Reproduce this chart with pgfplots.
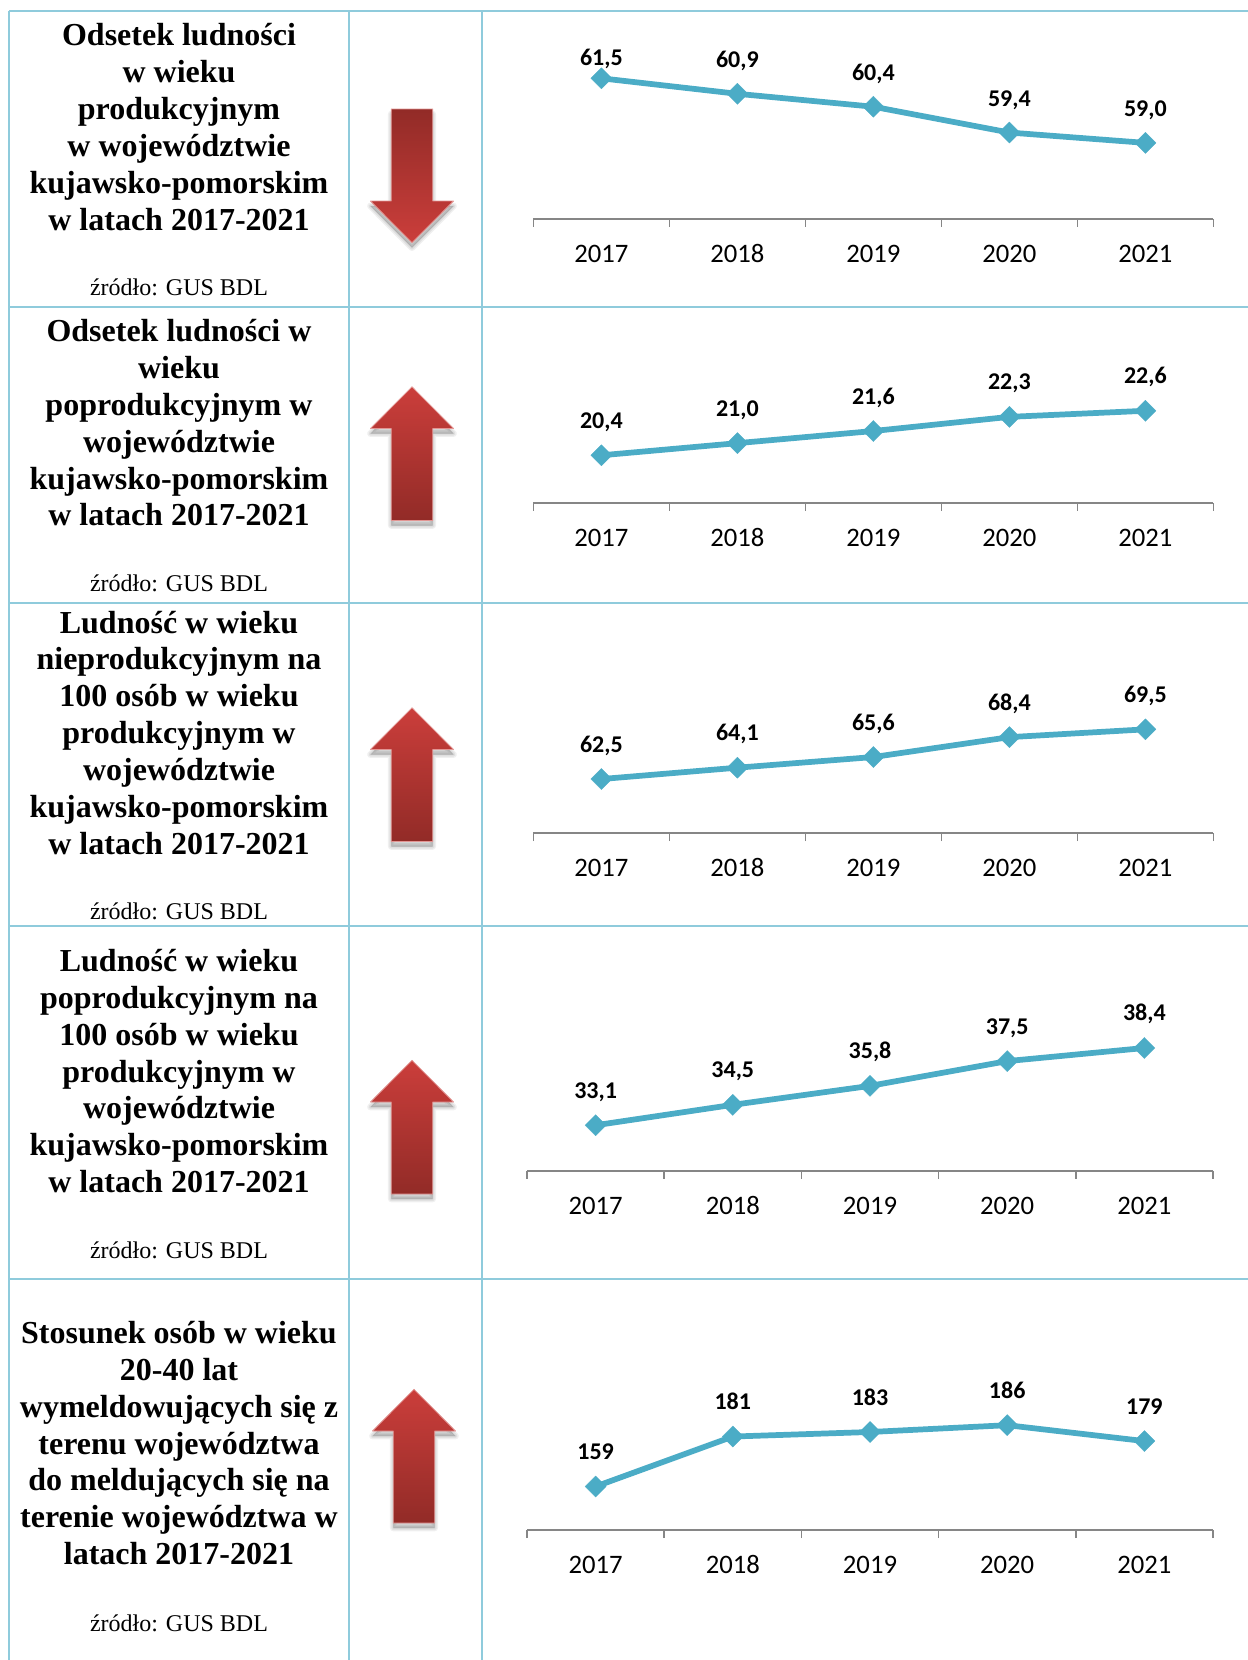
\documentclass[border=0pt]{standalone}
\usepackage{fontspec}
\setmainfont{Liberation Serif}
\newfontfamily\carl{Carlito}
\usepackage{pgfplots}
\pgfplotsset{compat=1.18}
\definecolor{tline}{HTML}{8FCBDC}
\definecolor{sline}{HTML}{4BACC6}
\definecolor{axgray}{HTML}{868686}
\definecolor{adark}{HTML}{922B27}
\definecolor{alight}{HTML}{CB3E3B}
\pgfplotsset{
  mini/.style={
    scale only axis, clip=false,
    width=#1*0.75pt, height=135pt,
    xmin=0, xmax=5,
    axis x line=bottom, axis y line=none,
    x axis line style={-,color=axgray,line width=1.4pt},
    xtick={0,1,2,3,4,5},
    xticklabels={},
    major tick length=6pt,
    xtick align=outside,
    major tick style={color=axgray,line width=1.2pt},
    extra x ticks={0.5,1.5,2.5,3.5,4.5},
    extra x tick labels={2017,2018,2019,2020,2021},
    extra x tick style={major tick length=0pt,major tick style={draw=none},
      xticklabel style={font=\carl\fontsize{20}{20}\selectfont,text=black,anchor=base,yshift=-32.6pt,inner sep=0pt}},
  },
  ser/.style={color=sline,line width=4.3pt,mark=square*,mark size=5.6pt,
    mark options={solid,rotate=45,draw=sline,fill=sline,line width=0.2pt}},
  lbl/.style={draw=none,mark=none,forget plot,nodes near coords,point meta=explicit symbolic,
    nodes near coords style={font=\carl\bfseries\fontsize{18}{18}\selectfont,text=black,anchor=base,yshift=#1*0.75pt,inner sep=0pt}},
}
\newcommand{\tl}[2]{\node[anchor=base,font=\bfseries\fontsize{24}{24}\selectfont,inner sep=0pt] at (179,#1) {#2};}
\newcommand{\src}[1]{\node[anchor=base,font=\fontsize{18}{18}\selectfont,inner sep=0pt] at (179,#1) {źródło: GUS BDL};}
\newcommand{\arrshape}{(-20.7,0) -- (20.7,0) -- (20.7,92) -- (41.5,92) -- (0,133.7) -- (-41.5,92) -- (-20.7,92) -- cycle}
\newcommand{\arrdown}[2]{%
  \begin{scope}[shift={(#1,#2)},line join=round]
    \foreach \w in {5,3,1}{\fill[black,opacity=0.06,draw=black,line width=\w pt] [shift={(0,5)}] \arrshape;}
    \shade[top color=adark,bottom color=alight,draw=alight!55!white,line width=0.6pt] \arrshape;
  \end{scope}}
\newcommand{\arrup}[2]{%
  \begin{scope}[shift={(#1,#2)},yscale=-1,line join=round]
    \foreach \w in {5,3,1}{\fill[black,opacity=0.06,draw=black,line width=\w pt] [shift={(0,-5)}] \arrshape;}
    \shade[top color=alight,bottom color=adark,draw=alight!55!white,line width=0.6pt] \arrshape;
  \end{scope}}
\begin{document}
\begin{tikzpicture}[x=0.75pt,y=-0.75pt]
\useasboundingbox (0,0) rectangle (1248,1660);
\fill[white] (0,0) rectangle (1248,1660);
% table
\begin{scope}[tline,line width=1.5pt]
\draw (9,11) -- (1248,11);
\draw (9,307) -- (1248,307);
\draw (9,602.5) -- (1248,602.5);
\draw (9,925.5) -- (1248,925.5);
\draw (9,1279) -- (1248,1279);
\draw (9,11) -- (9,1660);
\draw (349,11) -- (349,1660);
\draw (482,11) -- (482,1660);
\end{scope}
% titles
\tl{45}{Odsetek ludności}\tl{82}{w wieku}\tl{119}{produkcyjnym}\tl{156}{w województwie}\tl{193}{kujawsko-pomorskim}\tl{230}{w latach 2017-2021}
\src{295}
\tl{341}{Odsetek ludności w}\tl{378}{wieku}\tl{415}{poprodukcyjnym w}\tl{452}{województwie}\tl{489}{kujawsko-pomorskim}\tl{525}{w latach 2017-2021}
\src{591}
\tl{633}{Ludność w wieku}\tl{669.5}{nieprodukcyjnym na}\tl{706.5}{100 osób w wieku}\tl{743.5}{produkcyjnym w}\tl{780.5}{województwie}\tl{817}{kujawsko-pomorskim}\tl{854}{w latach 2017-2021}
\src{919}
\tl{971}{Ludność w wieku}\tl{1008}{poprodukcyjnym na}\tl{1045}{100 osób w wieku}\tl{1082}{produkcyjnym w}\tl{1118}{województwie}\tl{1155}{kujawsko-pomorskim}\tl{1192}{w latach 2017-2021}
\src{1258}
\tl{1343}{Stosunek osób w wieku}\tl{1380}{20-40 lat}\tl{1417}{wymeldowujących się z}\tl{1454}{terenu województwa}\tl{1490}{do meldujących się na}\tl{1527}{terenie województwa w}\tl{1564}{latach 2017-2021}
\src{1631}
% arrows
\arrdown{412}{109}
\arrup{412}{520.5}
\arrup{412}{841.5}
\arrup{412}{1194}
\arrup{414}{1523}
% chart 1
\begin{axis}[mini=680,at={(533.4*0.75pt,-218.8*0.75pt)},anchor=south west,ymin=56.06,ymax=63.03]
\addplot[ser] coordinates {(0.5,61.5)(1.5,60.9)(2.5,60.4)(3.5,59.4)(4.5,59.0)};
\addplot[lbl=12.5] coordinates {(0.5,61.5)[61,5]};
\addplot[lbl=26.5] coordinates {(1.5,60.9)[60,9](2.5,60.4)[60,4](3.5,59.4)[59,4](4.5,59.0)[59,0]};
\end{axis}
% chart 2
\begin{axis}[mini=680,at={(533.4*0.75pt,-502.8*0.75pt)},anchor=south west,ymin=18.05,ymax=26.95]
\addplot[ser] coordinates {(0.5,20.4)(1.5,21.0)(2.5,21.6)(3.5,22.3)(4.5,22.6)};
\addplot[lbl=27] coordinates {(0.5,20.4)[20,4](1.5,21.0)[21,0](2.5,21.6)[21,6](3.5,22.3)[22,3](4.5,22.6)[22,6]};
\end{axis}
% chart 3
\begin{axis}[mini=680,at={(533.4*0.75pt,-833*0.75pt)},anchor=south west,ymin=54.9,ymax=80.25]
\addplot[ser] coordinates {(0.5,62.5)(1.5,64.1)(2.5,65.6)(3.5,68.4)(4.5,69.5)};
\addplot[lbl=27] coordinates {(0.5,62.5)[62,5](1.5,64.1)[64,1](2.5,65.6)[65,6](3.5,68.4)[68,4](4.5,69.5)[69,5]};
\end{axis}
% chart 4
\begin{axis}[mini=686,at={(527*0.75pt,-1170.7*0.75pt)},anchor=south west,ymin=29.98,ymax=42.33]
\addplot[ser] coordinates {(0.5,33.1)(1.5,34.5)(2.5,35.8)(3.5,37.5)(4.5,38.4)};
\addplot[lbl=27] coordinates {(0.5,33.1)[33,1](1.5,34.5)[34,5](2.5,35.8)[35,8](3.5,37.5)[37,5](4.5,38.4)[38,4]};
\end{axis}
% chart 5
\begin{axis}[mini=686,at={(527*0.75pt,-1530*0.75pt)},anchor=south west,ymin=139.84,ymax=219.1]
\addplot[ser] coordinates {(0.5,159)(1.5,181)(2.5,183)(3.5,186)(4.5,179)};
\addplot[lbl=27] coordinates {(0.5,159)[159](1.5,181)[181](2.5,183)[183](3.5,186)[186](4.5,179)[179]};
\end{axis}
\end{tikzpicture}
\end{document}
